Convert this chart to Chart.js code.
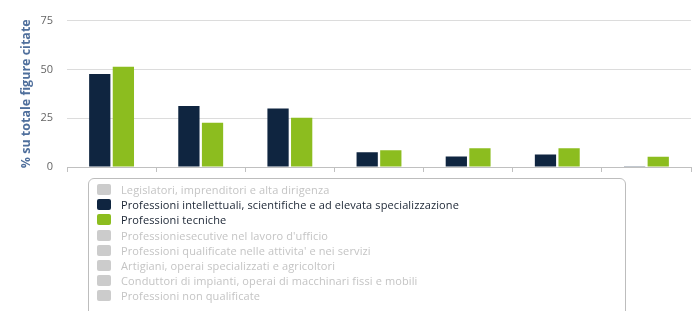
<!DOCTYPE html>
<html>
<head>
<meta charset="utf-8">
<script src="https://cdn.jsdelivr.net/npm/chart.js@4/dist/chart.umd.min.js"></script>
<style>
  body { margin: 0; background: #fff; }
  #contenitore { position: relative; width: 698px; height: 311px; }
  #legenda {
    position: absolute; left: 88px; top: 178px; width: 538px; height: 140px;
    border: 1.5px solid #bdbdbd; border-radius: 6px; box-sizing: border-box;
    padding-top: 3px; font-family: "Open Sans", sans-serif; font-size: 11px; letter-spacing: 0.12px;
  }
  .voce { display: flex; align-items: center; height: 15.2px; padding-left: 8px; cursor: pointer; }
  .quadrato { width: 14px; height: 11px; border-radius: 2px; margin-right: 10px; }
</style>
</head>
<body>
<div id="contenitore">
  <canvas id="grafico" width="698" height="311"></canvas>
  <div id="legenda"></div>
</div>
<script>
// categorie sull'asse x (etichette non mostrate nel grafico)
var categorie = ['1', '2', '3', '4', '5', '6', '7'];

var nomiSerie = [
    'Legislatori, imprenditori e alta dirigenza',
    'Professioni intellettuali, scientifiche e ad elevata specializzazione',
    'Professioni tecniche',
    'Professioniesecutive nel lavoro d\'ufficio',
    'Professioni qualificate nelle attivita\' e nei servizi',
    'Artigiani, operai specializzati e agricoltori',
    'Conduttori di impianti, operai di macchinari fissi e mobili',
    'Professioni non qualificate'
];

// valori (% su totale figure citate)
var intellettuali = [47.6, 31.3, 30.0, 7.6, 5.4, 6.4, 0.4];
var tecniche = [51.4, 22.7, 25.2, 8.6, 9.6, 9.6, 5.2];

var tickY = [0, 25, 50, 75];

var colori = ['#c8c8c8', '#0f2540', '#8cbd1f', '#c8c8c8', '#c8c8c8', '#c8c8c8', '#c8c8c8', '#c8c8c8'];

var datiSerie = [[], intellettuali, tecniche, [], [], [], [], []];

var datasets = [];
for (var i = 0; i < nomiSerie.length; i++) {
    datasets.push({
        label: nomiSerie[i],
        data: datiSerie[i],
        backgroundColor: colori[i],
        hidden: datiSerie[i].length === 0,
        categoryPercentage: 0.53,
        barPercentage: 0.9
    });
}

var grafico = new Chart(document.getElementById('grafico'), {
    type: 'bar',
    data: { labels: categorie, datasets: datasets },
    options: {
        responsive: false,
        animation: false,
        layout: { padding: { left: 19, right: 7, top: 9, bottom: 139 } },
        plugins: {
            legend: { display: false },
            tooltip: { enabled: false }
        },
        scales: {
            x: {
                grid: { drawOnChartArea: false, drawTicks: true, tickLength: 5, color: '#c0c0c0' },
                border: { color: '#c0c0c0' },
                ticks: { display: false }
            },
            y: {
                min: 0, max: 75,
                afterBuildTicks: function (scala) {
                    scala.ticks = tickY.map(function (v) { return { value: v }; });
                },
                afterFit: function (scala) { scala.width = 48; },
                grid: { color: '#dcdcdc', drawTicks: false },
                border: { display: false },
                ticks: { padding: 14, color: '#666', font: { family: 'Open Sans', size: 11 } },
                title: {
                    display: true,
                    text: '% su totale figure citate',
                    color: '#4f6f9c',
                    font: { family: 'Open Sans', size: 12.5, weight: 'bold' },
                    padding: 0
                }
            }
        }
    }
});

// legenda html costruita dai dataset
var legenda = document.getElementById('legenda');
function disegnaLegenda() {
    legenda.innerHTML = '';
    grafico.data.datasets.forEach(function (ds, indice) {
        var visibile = grafico.isDatasetVisible(indice);
        var voce = document.createElement('div');
        voce.className = 'voce';
        voce.style.color = visibile ? '#1a2433' : '#c4c4c4';
        var q = document.createElement('span');
        q.className = 'quadrato';
        q.style.background = visibile ? ds.backgroundColor : '#cccccc';
        var t = document.createElement('span');
        t.textContent = ds.label;
        voce.appendChild(q);
        voce.appendChild(t);
        voce.onclick = function () {
            grafico.setDatasetVisibility(indice, !visibile);
            grafico.update();
            disegnaLegenda();
        };
        legenda.appendChild(voce);
    });
}
disegnaLegenda();
</script>
</body>
</html>
